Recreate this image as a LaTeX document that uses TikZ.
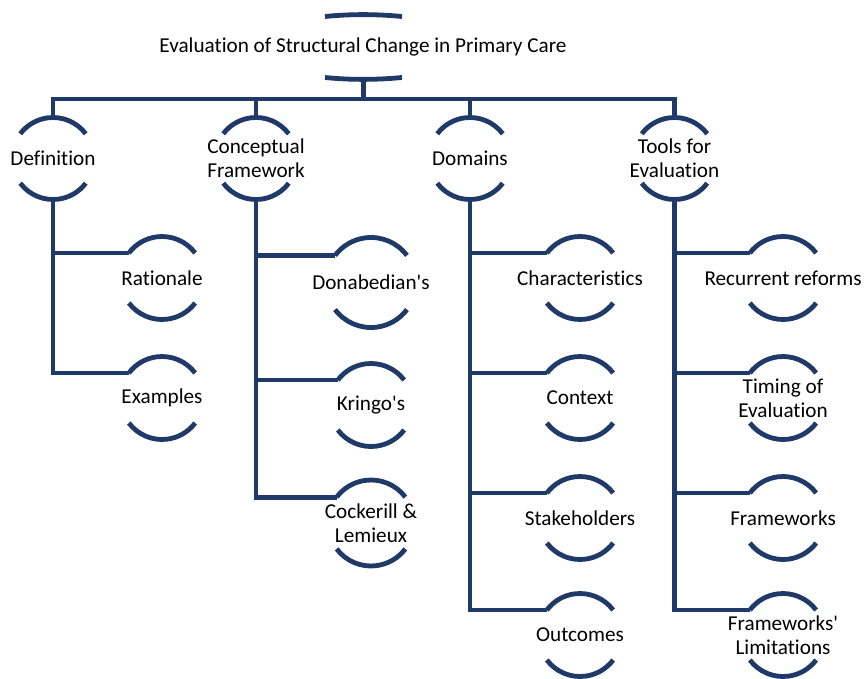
\documentclass[tikz,border=0pt]{standalone}
\usepackage{fontspec}
\setmainfont{Carlito}[Ligatures=NoCommon]
\usetikzlibrary{calc}
\definecolor{navy}{RGB}{31,58,104}
\tikzset{
  link/.style={draw=navy, line width=4.8pt},
  capline/.style={draw=navy, line width=4.8pt},
  lbl/.style={font=\fontsize{21.2}{24}\selectfont, align=center, text=black, inner sep=0pt},
}
% labelled item: name, x, y (downwards), radius, text
\newcommand\capitem[5]{%
  \coordinate (#1-c) at (#2,-#3);
  \node[lbl] (#1) at (#1-c) {#5};
  \draw[capline] ($(#1-c)+(37:#4pt)$) arc (37:143:#4pt);
  \draw[capline] ($(#1-c)+(217:#4pt)$) arc (217:323:#4pt);
  \coordinate (#1-t) at ($(#1-c)+(0,#4)$);
  \coordinate (#1-b) at ($(#1-c)+(0,-#4)$);
  \coordinate (#1-l) at ($(#1-c)+(143:#4pt)$);
}
\begin{document}
\begin{tikzpicture}[x=1pt,y=1pt]
\useasboundingbox (0,0) rectangle (864,-679);

% root
\node[lbl] (root) at (363,-47) {Evaluation of Structural Change in Primary Care};
\draw[capline] (325,-16.5) .. controls (350,-14) and (376,-14) .. (402,-16.5);
\draw[capline] (325,-77.5) .. controls (350,-80) and (376,-80) .. (402,-77.5);
\coordinate (root-b) at (363.5,-79);
\coordinate (bar) at (363.5,-99);

% first level
\capitem{def}{53}{158.5}{41}{Definition}
\capitem{con}{256}{158.5}{41}{Conceptual\\Framework}
\capitem{dom}{470}{158.5}{41}{Domains}
\capitem{tool}{674.5}{158.5}{41}{Tools for\\Evaluation}

% second level
\capitem{rat}{162}{278}{41.5}{Rationale}
\capitem{exa}{162}{398}{41.5}{Examples}

\capitem{don}{371}{282.5}{45}{Donabedian\textquotesingle s}
\capitem{kri}{371}{405}{41.5}{Kringo\textquotesingle s}
\capitem{coc}{371}{523}{43}{Cockerill \&\\Lemieux}

\capitem{cha}{580}{278}{41.5}{Characteristics}
\capitem{ctx}{580}{398}{41.5}{Context}
\capitem{stk}{580}{518}{41.5}{Stakeholders}
\capitem{out}{580}{635}{41.5}{Outcomes}

\capitem{rec}{783}{278}{41.5}{Recurrent reforms}
\capitem{tim}{783}{398}{41.5}{Timing of\\Evaluation}
\capitem{frm}{783}{518}{41.5}{Frameworks}
\capitem{lim}{783}{635}{41.5}{Frameworks\textquotesingle\\Limitations}

% connectors
\draw[link] (root-b) -- (bar);
\draw[link] (def-t) |- (bar) -| (tool-t);
\draw[link] (con-t) -- (con-t |- bar);
\draw[link] (dom-t) -- (dom-t |- bar);

\draw[link] (def-b) |- (rat-l);
\draw[link] (def-b) |- (exa-l);

\draw[link] (con-b) |- (don-l);
\draw[link] (con-b) |- (kri-l);
\draw[link] (con-b) |- (coc-l);

\draw[link] (dom-b) |- (cha-l);
\draw[link] (dom-b) |- (ctx-l);
\draw[link] (dom-b) |- (stk-l);
\draw[link] (dom-b) |- (out-l);

\draw[link] (tool-b) |- (rec-l);
\draw[link] (tool-b) |- (tim-l);
\draw[link] (tool-b) |- (frm-l);
\draw[link] (tool-b) |- (lim-l);
\end{tikzpicture}
\end{document}
